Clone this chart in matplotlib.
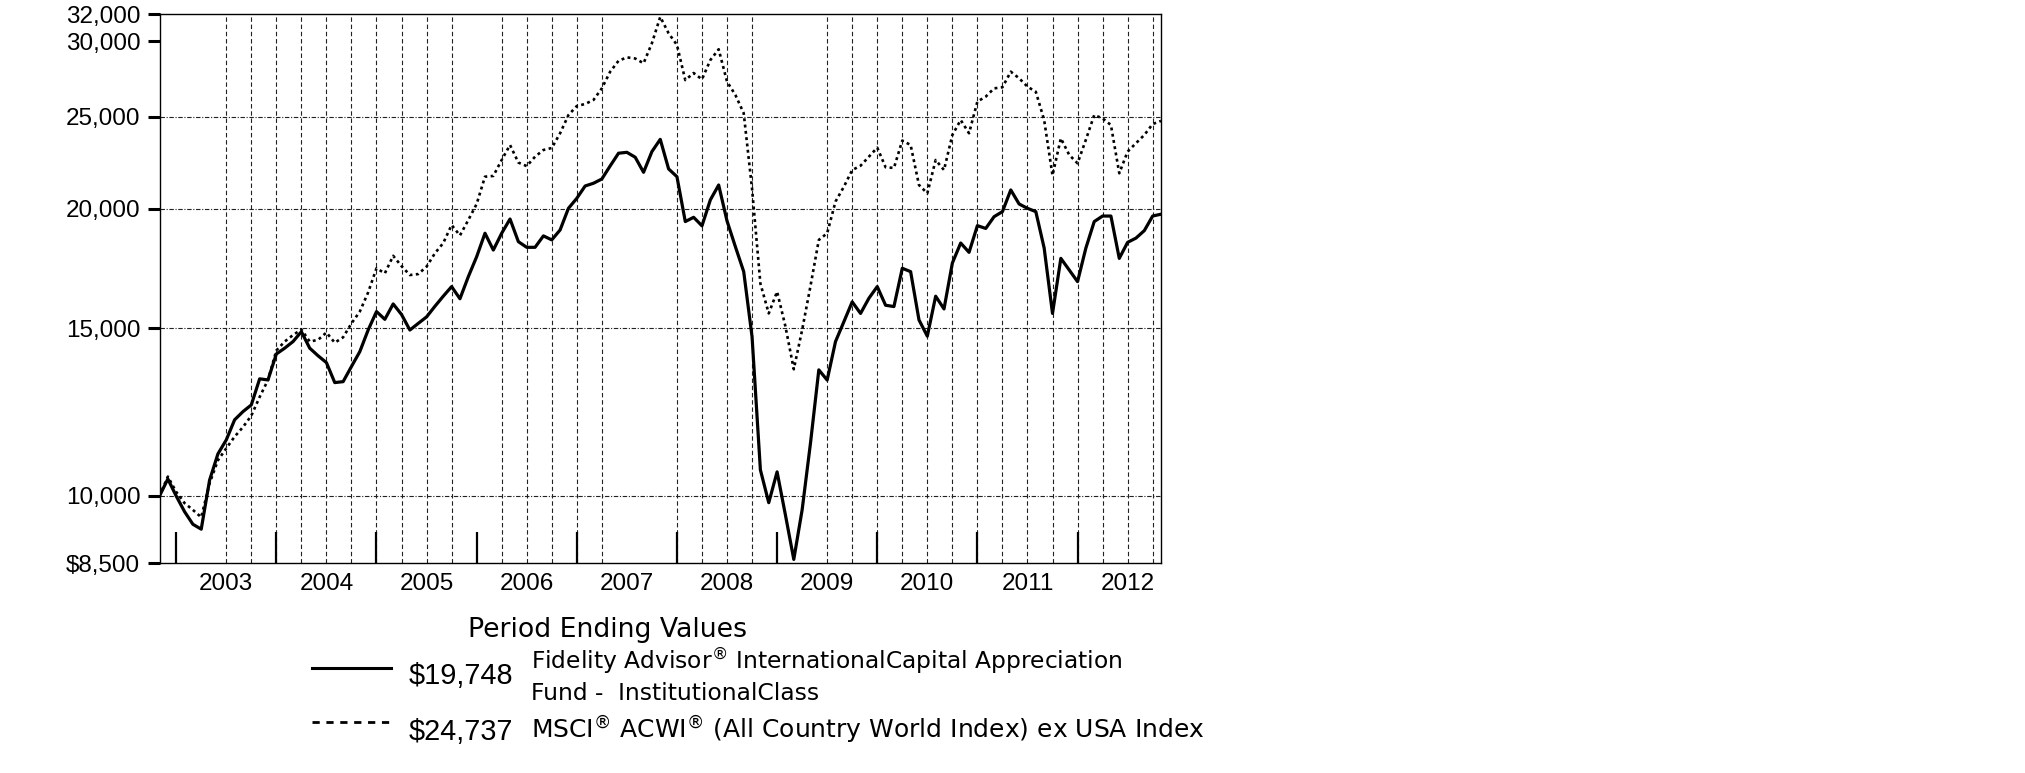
import matplotlib
matplotlib.use("Agg")
import matplotlib.pyplot as plt
from matplotlib.lines import Line2D
from matplotlib.ticker import FixedLocator, NullLocator
import numpy as np

# month-end values, Oct 2002 .. Oct 2012 (growth of $10,000)
fund = [10000, 10420, 10000, 9630, 9340, 9230, 10390, 11070, 11450, 12020,
        12260, 12460, 13270, 13235, 14090, 14290, 14520, 14870, 14290, 14030,
        13800, 13150, 13180, 13670, 14170, 14930, 15610, 15320, 15900, 15500,
        14930, 15170, 15410, 15810, 16200, 16580, 16100, 16980, 17820, 18860,
        18110, 18860, 19520, 18480, 18230, 18230, 18740, 18560, 19010, 20030,
        20520, 21140, 21280, 21500, 22190, 22880, 22930, 22660, 21850, 22970,
        23660, 22030, 21620, 19400, 19600, 19200, 20440, 21190, 19430, 18260,
        17190, 14690, 10650, 9840, 10600, 9550, 8580, 9670, 11360, 13560,
        13230, 14520, 15230, 15980, 15540, 16120, 16580, 15850, 15800, 17330,
        17190, 15300, 14710, 16200, 15710, 17550, 18420, 18010, 19210, 19080,
        19630, 19870, 20940, 20240, 20030, 19870, 18200, 15540, 17750, 17260,
        16780, 18200, 19400, 19660, 19660, 17750, 18450, 18640, 18980, 19660,
        19748]
index = [10000, 10480, 10100, 9830, 9670, 9500, 10310, 10900, 11220, 11540,
         11810, 12140, 12700, 13235, 14210, 14520, 14750, 14950, 14520, 14580,
         14840, 14480, 14670, 15170, 15610, 16350, 17330, 17120, 17860, 17420,
         17050, 17090, 17400, 17970, 18420, 19240, 18760, 19470, 20240, 21620,
         21660, 22510, 23340, 22370, 22180, 22690, 23060, 23170, 24010, 25090,
         25640, 25770, 26020, 26760, 27860, 28600, 28840, 28760, 28430, 29840,
         31800, 30570, 29720, 27300, 27770, 27350, 28650, 29410, 27200, 26340,
         25200, 21000, 16700, 15540, 16380, 15060, 13580, 14930, 16600, 18560,
         18860, 20360, 21100, 21970, 22200, 22690, 23190, 22120, 22080, 23590,
         23340, 21190, 20770, 22510, 21970, 23910, 24790, 24010, 25920, 26230,
         26760, 26830, 27860, 27420, 26870, 26540, 24790, 21690, 23720, 22790,
         22330, 23640, 25090, 24890, 24490, 21800, 22970, 23440, 23910, 24550,
         24737]
years = ['2003', '2004', '2005', '2006', '2007', '2008', '2009', '2010', '2011', '2012']
yticks = [8500, 10000, 15000, 20000, 25000, 30000, 32000]
ytick_labels = ['$8,500', '10,000', '15,000', '20,000', '25,000', '30,000', '32,000']
hgrid = [10000, 15000, 20000, 25000]
# quarter-end month indices that carry a vertical grid line
vgrid = [8, 11, 14, 17, 20, 23, 26, 29, 32, 35, 41, 44, 47, 50, 53, 62, 65, 68,
         71, 80, 83, 86, 89, 92, 95, 98, 101, 104, 107, 110, 113, 116, 119]
fund_name = 'Fidelity Advisor$^{\u00ae}$ InternationalCapital Appreciation'
fund_name2 = 'Fund -  InstitutionalClass'
index_name = 'MSCI$^{\u00ae}$ ACWI$^{\u00ae}$ (All Country World Index) ex USA Index'
fund_end = '$19,748'
index_end = '$24,737'

W, H = 2025, 773
x = np.arange(len(fund))
year_start = [2 + 12 * k for k in range(len(years))]
year_mid = [8 + 12 * k for k in range(len(years))]

fig = plt.figure(figsize=(W / 100, H / 100), dpi=100)
ax = fig.add_axes([159.5 / W, 1 - 563.3 / H, (1161 - 159.5) / W, (563.3 - 14.3) / H])

for v in vgrid:
    ax.axvline(v, color='#222222', lw=0.8, ls=(0, (4, 2.5)), zorder=1)
for h in hgrid:
    ax.axhline(h, color='#222222', lw=0.8, ls=(0, (4, 1.5, 1, 1.5)), zorder=1)

ax.plot(x, index, color='black', lw=1.9, ls=(0, (1.1, 1.3)), zorder=3)
ax.plot(x, fund, color='black', lw=2.3, zorder=4)

ax.set_yscale('log')
ax.set_ylim(8500, 32000)
ax.set_xlim(0, len(fund) - 1)
ax.yaxis.set_major_locator(FixedLocator(yticks))
ax.yaxis.set_minor_locator(NullLocator())
ax.set_yticklabels(ytick_labels)
ax.tick_params(axis='y', direction='out', length=8.3, width=2.2, pad=5.5,
               labelsize=17.5)

ax.xaxis.set_major_locator(FixedLocator(year_start))
ax.xaxis.set_minor_locator(FixedLocator(year_mid))
ax.set_xticklabels([''] * len(years))
ax.set_xticklabels(years, minor=True)
ax.tick_params(axis='x', which='major', direction='in', length=22, width=1.6)
ax.tick_params(axis='x', which='minor', length=0, pad=7, labelsize=17.5)
for lab in ax.get_yticklabels() + ax.get_xticklabels(minor=True):
    lab.set_family('Liberation Sans')

for s in ax.spines.values():
    s.set_linewidth(1.0)

# legend block under the chart
def fx(px):
    return px / W

def fy(py):
    return 1 - py / H

fig.text(fx(468), fy(637), 'Period Ending Values', fontsize=19.3,
         family='DejaVu Sans', va='baseline')
fig.add_artist(Line2D([fx(311.7), fx(391)], [fy(668)] * 2, color='black', lw=2.2))
fig.add_artist(Line2D([fx(311.7), fx(389)], [fy(721.5)] * 2, color='black', lw=2.0,
                      ls=(0, (2.6, 2.4))))
fig.text(fx(408.3), fy(684), fund_end, fontsize=20.8, family='Liberation Sans',
         va='baseline')
fig.text(fx(408.3), fy(739.5), index_end, fontsize=20.8, family='Liberation Sans',
         va='baseline')
fig.text(fx(531), fy(668.5), fund_name, fontsize=16.8, family='DejaVu Sans',
         va='baseline')
fig.text(fx(531), fy(700), fund_name2, fontsize=16.8, family='DejaVu Sans',
         va='baseline')
fig.text(fx(531), fy(739), index_name, fontsize=18.0, family='DejaVu Sans',
         va='baseline')

fig.savefig('out.png', dpi=100)
